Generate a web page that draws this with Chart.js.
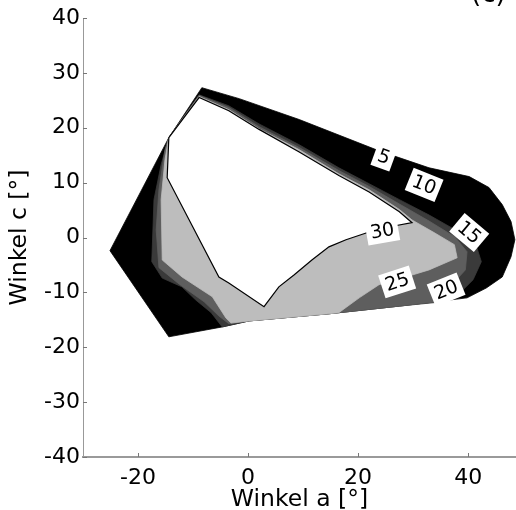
<!DOCTYPE html>
<html>
<head>
<meta charset="utf-8">
<script src="https://cdn.jsdelivr.net/npm/chart.js@4.4.1/dist/chart.umd.min.js"></script>
<style>
html,body{margin:0;padding:0;background:#fff;}
#wrap{width:516px;height:510px;}
</style>
</head>
<body>
<div id="wrap"><canvas id="c" width="516" height="510"></canvas></div>
<script>
// Axis ticks
const xTicks = [-20, 0, 20, 40];
const yTicks = [-40, -30, -20, -10, 0, 10, 20, 30, 40];

// Filled contour regions, [Winkel a, Winkel c] vertices, from outer domain to highest level
const regionDomain = [[-8.4,27.3],[-1.6,25.3],[9.3,21.5],[23.8,15.8],[32.9,12.7],[40.2,11.1],[43.8,9.1],[46.2,6.0],[47.8,2.9],[48.5,-0.4],[47.8,-3.5],[46.2,-7.2],[43.3,-9.2],[39.8,-11.0],[27.5,-12.5],[14.7,-13.9],[0.2,-15.2],[-4.7,-16.3],[-14.4,-18.1],[-25.1,-2.4],[-14.4,18.2],[-8.4,27.3]];
const region15 = [[-14.4,18.2],[-8.9,26.0],[-3.5,24.0],[2.0,20.7],[9.3,16.9],[16.5,12.7],[22.0,9.8],[27.5,6.9],[32.9,4.1],[38.0,1.2],[41.6,-1.9],[42.4,-4.4],[40.9,-7.7],[38.0,-10.6],[35.6,-11.7],[27.5,-12.5],[14.7,-13.9],[0.2,-15.2],[-4.7,-16.3],[-6.7,-13.7],[-9.5,-11.4],[-12.0,-9.0],[-15.6,-7.4],[-17.5,-4.4],[-17.1,6.9],[-15.8,13.3],[-14.4,18.2]];
const region20 = [[-14.4,18.2],[-8.9,25.9],[-3.5,23.7],[2.0,20.2],[9.3,16.4],[16.5,12.2],[22.0,9.3],[27.5,6.1],[32.9,3.0],[37.6,0.1],[39.8,-2.6],[39.5,-5.9],[36.5,-9.2],[34.2,-11.7],[27.5,-12.5],[14.7,-13.9],[0.2,-15.2],[-3.5,-15.7],[-5.3,-14.3],[-8.0,-11.7],[-12.5,-8.5],[-16.2,-5.5],[-16.7,1.4],[-16.2,8.7],[-15.1,16.0],[-14.4,18.2]];
const region25 = [[-14.4,18.2],[-8.9,25.7],[-3.5,23.3],[2.0,19.8],[9.3,16.0],[16.5,11.6],[22.0,8.7],[27.5,5.1],[29.8,3.2],[33.8,0.9],[37.5,-1.3],[38.0,-3.7],[32.9,-5.9],[28.0,-7.4],[23.8,-8.6],[20.2,-11.0],[16.5,-13.7],[14.7,-13.9],[0.2,-15.2],[-3.1,-15.6],[-4.0,-14.7],[-6.5,-10.8],[-12.0,-7.2],[-15.6,-4.1],[-15.8,6.9],[-15.1,14.2],[-14.4,18.2]];
const region30 = [[-14.4,18.2],[-8.9,25.5],[-3.5,23.1],[2.0,19.7],[9.3,15.6],[16.5,11.3],[22.0,8.3],[27.5,4.7],[29.8,2.7],[26.5,2.1],[22.0,1.0],[17.8,-0.4],[14.7,-1.7],[11.6,-4.1],[8.4,-6.8],[5.6,-9.0],[2.9,-12.6],[-3.5,-8.3],[-5.3,-7.2],[-14.7,10.9],[-14.4,18.2]];

const regions = [regionDomain, region15, region20, region25, region30];
const regionColors = ['#000000', '#3a3a3a', '#5e5e5e', '#bdbdbd', '#ffffff'];
const regionBorders = ['#000000', '#3a3a3a', '#5e5e5e', '#bdbdbd', '#000000'];

// Contour level labels
const contourLabels = ['5', '10', '15', '20', '25', '30'];
const labelA = [24.7, 32.0, 40.2, 36.0, 27.1, 24.4];
const labelC = [14.7, 9.6, 0.9, -9.5, -8.1, 1.2];
const labelAngle = [20, 22, 40, -22, -18, -10];

const FONT = "'DejaVu Sans', Verdana, sans-serif";

const decor = {
  id: 'decor',
  afterDatasetsDraw(chart) {
    const {ctx, scales: {x, y}} = chart;
    ctx.save();
    ctx.font = '19px ' + FONT;
    ctx.textAlign = 'center';
    ctx.textBaseline = 'middle';
    contourLabels.forEach((t, i) => {
      const px = x.getPixelForValue(labelA[i]);
      const py = y.getPixelForValue(labelC[i]);
      ctx.save();
      ctx.translate(px, py);
      ctx.rotate(labelAngle[i] * Math.PI / 180);
      const w = ctx.measureText(t).width + 8;
      ctx.fillStyle = '#fff';
      ctx.fillRect(-w / 2, -12, w, 24);
      ctx.fillStyle = '#000';
      ctx.fillText(t, 0, 1);
      ctx.restore();
    });
    ctx.restore();
  },
  afterDraw(chart) {
    const {ctx, chartArea: a, scales: {x, y}} = chart;
    ctx.save();
    ctx.strokeStyle = '#777';
    ctx.lineWidth = 1;
    ctx.beginPath();
    yTicks.forEach(v => {
      const py = Math.round(y.getPixelForValue(v)) + 0.5;
      ctx.moveTo(a.left, py); ctx.lineTo(a.left + 4, py);
    });
    xTicks.forEach(v => {
      const px = Math.round(x.getPixelForValue(v)) + 0.5;
      ctx.moveTo(px, a.bottom); ctx.lineTo(px, a.bottom - 4);
    });
    ctx.stroke();
    ctx.fillStyle = '#000';
    ctx.font = '26px ' + FONT;
    ctx.textAlign = 'left';
    ctx.textBaseline = 'alphabetic';
    ctx.fillText('(c)', 471, 2);
    ctx.restore();
  }
};

new Chart(document.getElementById('c'), {
  type: 'scatter',
  data: {
    datasets: regions.map((pts, i) => ({
      data: pts.map(([a, c]) => ({x: a, y: c})),
      showLine: true,
      fill: 'shape',
      backgroundColor: regionColors[i],
      borderColor: regionBorders[i],
      borderWidth: i === 4 ? 1.2 : 0.8,
      pointRadius: 0,
      tension: 0,
      order: 10 - i
    }))
  },
  options: {
    responsive: false,
    animation: false,
    devicePixelRatio: 1,
    layout: {padding: {top: 18, right: 0, left: 0, bottom: 0}},
    plugins: {legend: {display: false}, tooltip: {enabled: false}},
    scales: {
      x: {
        type: 'linear', min: -30, max: 48.7,
        afterBuildTicks: s => { s.ticks = xTicks.map(v => ({value: v})); },
        afterFit: s => { s.height = 53; },
        grid: {display: false, drawTicks: false},
        border: {display: true, color: '#9a9a9a', width: 2},
        ticks: {color: '#000', font: {family: FONT, size: 22}, padding: 8},
        title: {display: true, text: 'Winkel a [°]', color: '#000', font: {family: FONT, size: 23.5}, padding: {top: 0, bottom: -4}}
      },
      y: {
        type: 'linear', min: -40, max: 40,
        afterBuildTicks: s => { s.ticks = yTicks.map(v => ({value: v})); },
        afterFit: s => { s.width = 83; },
        grid: {display: false, drawTicks: false},
        border: {display: true, color: '#999', width: 1, dash: [1, 1]},
        ticks: {color: '#000', font: {family: FONT, size: 22}, padding: 3},
        title: {display: true, text: 'Winkel c [°]', color: '#000', font: {family: FONT, size: 23.5}, padding: {top: 6, bottom: 0}}
      }
    }
  },
  plugins: [decor]
});
</script>
</body>
</html>
